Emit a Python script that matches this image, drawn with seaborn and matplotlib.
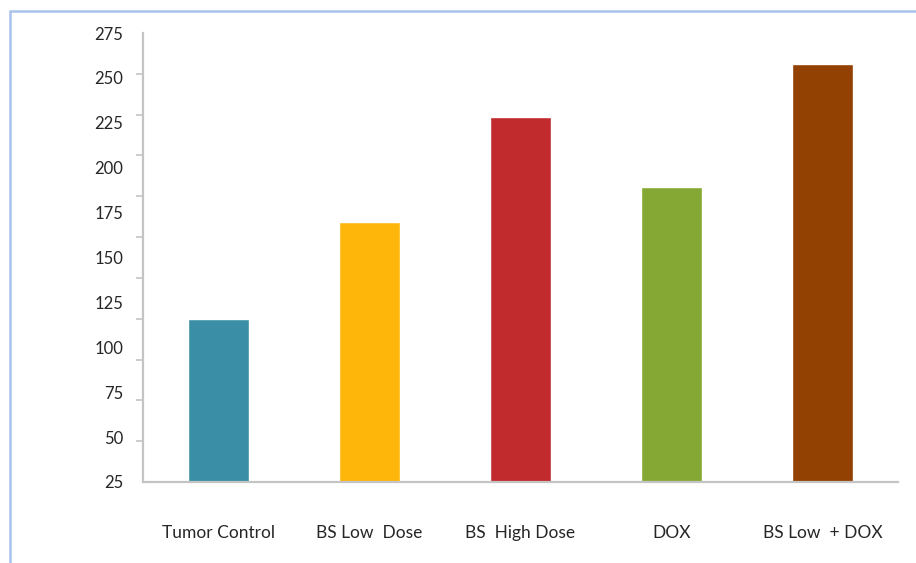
import numpy as np
import pandas as pd
import matplotlib
matplotlib.use("Agg")
import matplotlib.pyplot as plt
from matplotlib.patches import Rectangle
import seaborn as sns

categories = ["Tumor Control", "BS Low  Dose", "BS  High Dose", "DOX", "BS Low  + DOX"]
values = [116, 170, 228, 189, 258]
colors = ["#3A8FA6", "#FFB60B", "#C12B2E", "#85A835", "#934003"]
y_ticks = [25, 50, 75, 100, 125, 150, 175, 200, 225, 250, 275]

sns.set_theme(style="white")
plt.rcParams["font.family"] = ["Lato", "DejaVu Sans"]

df = pd.DataFrame({"cat": categories, "val": values})

fig = plt.figure(figsize=(9.16, 5.63), dpi=100)
ax = fig.add_axes([143/916, 81/563, 755/916, 449/563])

sns.barplot(data=df, x="cat", y="val", hue="cat", palette=colors,
            legend=False, width=0.4, saturation=1, ax=ax)

ax.set_xlim(-0.5, 4.5)
ax.set_ylim(25, 275)
ax.set_yticks(y_ticks)
ax.set_yticklabels([str(t) for t in y_ticks])
ax.set_yticks(np.linspace(25, 275, 12), minor=True)
ax.set_xlabel("")
ax.set_ylabel("")

for s in ["top", "right"]:
    ax.spines[s].set_visible(False)
for s in ["left", "bottom"]:
    ax.spines[s].set_color("#c4c4c4")
    ax.spines[s].set_linewidth(1.6)

ax.tick_params(axis="y", which="major", length=0, pad=14, labelsize=12, labelcolor="#262626")
ax.tick_params(axis="y", which="minor", left=True, length=5, width=1.2, color="#c4c4c4")
ax.tick_params(axis="x", length=0, pad=31, labelsize=12.5, labelcolor="#262626")

# light blue frame of the original chart object
fig.patches.append(Rectangle((9.5/916, -0.1), 1.2, (563-11)/563 + 0.1,
                             transform=fig.transFigure, fill=False,
                             edgecolor="#a9c4ea", linewidth=1.8))

fig.savefig("out.png", dpi=100)
